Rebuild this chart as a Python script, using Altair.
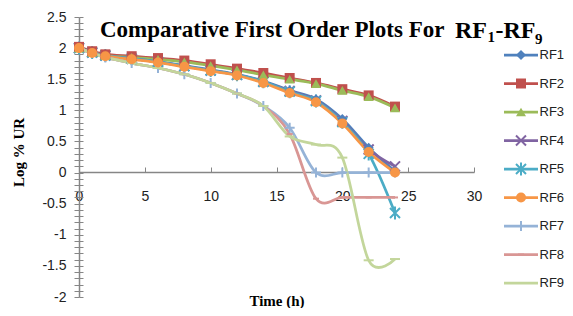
import altair as alt
import pandas as pd

# ---------------- data ----------------
times = [0, 1, 2, 4, 6, 8, 10, 12, 14, 16, 18, 20, 22, 24]
series_names = ["RF1", "RF2", "RF3", "RF4", "RF5", "RF6", "RF7", "RF8", "RF9"]

rf1 = [2.00, 1.93, 1.88, 1.83, 1.78, 1.72, 1.65, 1.58, 1.47, 1.32, 1.18, 0.86, 0.40, 0.02]
rf2 = [2.02, 1.95, 1.90, 1.87, 1.84, 1.80, 1.74, 1.67, 1.60, 1.52, 1.44, 1.34, 1.24, 1.06]
rf3 = [2.00, 1.93, 1.88, 1.85, 1.82, 1.78, 1.72, 1.65, 1.57, 1.50, 1.43, 1.32, 1.22, 1.04]
rf4 = [2.00, 1.93, 1.88, 1.83, 1.78, 1.71, 1.64, 1.57, 1.46, 1.31, 1.16, 0.83, 0.37, 0.10]
rf5 = [2.00, 1.93, 1.88, 1.83, 1.78, 1.71, 1.64, 1.57, 1.46, 1.30, 1.15, 0.81, 0.30, -0.65]
rf6 = [2.00, 1.92, 1.87, 1.82, 1.77, 1.70, 1.63, 1.56, 1.44, 1.28, 1.13, 0.79, 0.33, 0.00]
rf7 = [2.00, 1.92, 1.85, 1.76, 1.68, 1.58, 1.44, 1.27, 1.07, 0.72, 0.00, 0.00, 0.00, 0.00]
rf8 = [2.00, 1.92, 1.85, 1.76, 1.68, 1.58, 1.44, 1.27, 1.07, 0.62, -0.42, -0.40, -0.40, -0.40]
rf9 = [2.00, 1.92, 1.85, 1.76, 1.68, 1.58, 1.44, 1.27, 1.07, 0.58, 0.45, 0.24, -1.41, -1.39]
series_values = [rf1, rf2, rf3, rf4, rf5, rf6, rf7, rf8, rf9]

x_ticks = [0, 5, 10, 15, 20, 25, 30]
y_minor = [round(-2 + 0.1 * i, 1) for i in range(46)]

title_pieces = ["Comparative First Order Plots For", "RF", "1", "-RF", "9"]

# ---------------- styles ----------------
colors = ["#4F81BD", "#C0504D", "#9BBB59", "#8064A2", "#4BACC6",
          "#F79646", "#95B3D7", "#D99694", "#C3D69B"]
shapes = ["diamond", "square", "triangle-up",
          "M-1,-1L1,1M-1,1L1,-1",
          "M-1,-1L1,1M-1,1L1,-1M0,-1.3V1.3",
          "circle",
          "M0,-1V1M-1,0H1",
          "M-0.6,0H0.6",
          "M-1,0H1"]
sizes = [100, 100, 110, 70, 70, 130, 90, 100, 100]
filled_set = ["RF1", "RF2", "RF3", "RF6"]
stroked_set = ["RF4", "RF5", "RF7", "RF8", "RF9"]

rows = []
for name, vals in zip(series_names, series_values):
    for t, v in zip(times, vals):
        rows.append({"series": name, "time": t, "value": v})
df = pd.DataFrame(rows)

W, H = 395, 280
gray = "#868686"
sans = "Liberation Sans"
serif = "Liberation Serif"

xscale = alt.Scale(domain=[0, 30], nice=False, zero=False)
yscale = alt.Scale(domain=[-2, 2.5], nice=False, zero=False)
cscale = alt.Scale(domain=series_names, range=colors)
shscale = alt.Scale(domain=series_names, range=shapes)
szscale = alt.Scale(domain=series_names, range=sizes)

color_enc = alt.Color("series:N", scale=cscale, legend=None)
shape_enc = alt.Shape("series:N", scale=shscale, legend=None)
size_enc = alt.Size("series:N", scale=szscale, legend=None)

base = alt.Chart(df)

lines = base.mark_line(interpolate="cardinal", strokeWidth=2.75).encode(
    x=alt.X("time:Q", scale=xscale,
            axis=alt.Axis(orient="bottom", offset=-125, values=x_ticks, domain=False,
                          ticks=False, grid=False, labelPadding=17, labelFont=sans,
                          labelFontSize=14, labelColor="#222", labelFlush=False,
                          title="Time (h)", titleFont=serif, titleFontSize=15,
                          titleFontWeight="bold", titleColor="#000", titleX=197.5,
                          titleY=133, titleAlign="center", titleBaseline="alphabetic")),
    y=alt.Y("value:Q", scale=yscale,
            axis=alt.Axis(orient="left", values=y_minor, grid=False,
                          labelExpr="abs(datum.value*2 - round(datum.value*2)) < 0.001 ? toString(datum.value) : ''",
                          labelOverlap=False, labelFlush=False, labelFont=sans,
                          labelFontSize=14, labelColor="#222", labelPadding=8,
                          tickSize=5, tickColor=gray, domainColor=gray, domainWidth=1.5,
                          title="Log % UR", titleFont=serif, titleFontSize=15,
                          titleFontWeight="bold", titleColor="#000", titleX=-61,
                          titleY=135, titleAlign="center", titleBaseline="middle")),
    color=color_enc,
)

pts_stroked = base.transform_filter(
    alt.FieldOneOfPredicate(field="series", oneOf=stroked_set)
).mark_point(filled=False, opacity=1, strokeWidth=2).encode(
    x=alt.X("time:Q", scale=xscale,
            axis=alt.Axis(orient="top", offset=-155, values=x_ticks, labels=False,
                          grid=False, tickSize=5, tickColor=gray, domainColor=gray,
                          domainWidth=1.5, title=None)),
    y=alt.Y("value:Q", scale=yscale,
            axis=alt.Axis(orient="right", offset=-W, values=y_minor, labels=False,
                          grid=False, domain=False, tickSize=4, tickColor=gray, title=None)),
    color=color_enc, shape=shape_enc, size=size_enc,
)

pts_filled = base.transform_filter(
    alt.FieldOneOfPredicate(field="series", oneOf=filled_set)
).mark_point(filled=True, opacity=1).encode(
    x=alt.X("time:Q", scale=xscale, axis=None),
    y=alt.Y("value:Q", scale=yscale, axis=None),
    color=color_enc, shape=shape_enc, size=size_enc,
)

plot = alt.layer(lines, pts_stroked, pts_filled).resolve_axis(x="independent", y="independent")

# ---------------- legend ----------------
leg_df = pd.DataFrame({"series": series_names})
ly = alt.Y("series:N", scale=alt.Scale(type="point", domain=series_names, range=[38, 266], padding=0), axis=None)
leg_base = alt.Chart(leg_df)
leg_rule = leg_base.mark_rule(strokeWidth=2.75).encode(
    x=alt.value(425), x2=alt.value(459), y=ly, color=color_enc)
leg_fill = leg_base.transform_filter(
    alt.FieldOneOfPredicate(field="series", oneOf=filled_set)
).mark_point(filled=True, opacity=1).encode(
    x=alt.value(442), y=ly, color=color_enc, shape=shape_enc, size=size_enc)
leg_stroke = leg_base.transform_filter(
    alt.FieldOneOfPredicate(field="series", oneOf=stroked_set)
).mark_point(filled=False, opacity=1, strokeWidth=2).encode(
    x=alt.value(442), y=ly, color=color_enc, shape=shape_enc, size=size_enc)
leg_text = leg_base.mark_text(align="left", baseline="middle", font=sans, fontSize=13,
                              color="#222").encode(x=alt.value(460.5), y=ly, text="series:N")
legend = alt.layer(leg_rule, leg_fill, leg_stroke, leg_text)

# ---------------- title ----------------
title_pos = [(21, 20, 23), (376, 21, 24), (408.5, 25, 15), (416.5, 21, 24), (456, 27, 15)]
title_layers = []
for piece, (tx, ty, fs) in zip(title_pieces, title_pos):
    title_layers.append(
        alt.Chart(pd.DataFrame({"t": [piece]})).mark_text(
            align="left", baseline="alphabetic", font=serif, fontWeight="bold",
            fontSize=fs, color="#000").encode(x=alt.value(tx), y=alt.value(ty), text="t:N"))

chart = alt.layer(plot, legend, *title_layers).resolve_scale(
    y="independent").resolve_axis(x="independent", y="independent").properties(
    width=W, height=H,
    padding={"left": 71, "top": 9, "right": 91, "bottom": 11},
    autosize=alt.AutoSizeParams(type="none"),
).configure_view(stroke=None)

chart.save("out.html", embed_options={"renderer": "svg", "actions": False})
